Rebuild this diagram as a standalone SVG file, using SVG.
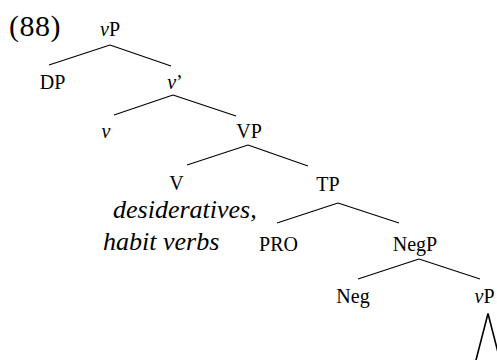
<svg xmlns="http://www.w3.org/2000/svg" width="497" height="360" viewBox="0 0 497 360">
<style>
.t{font-family:'Liberation Serif',serif;fill:#000}
.l{font-size:20px;text-anchor:middle}
.big{font-size:30px;letter-spacing:0.5px}
.it{font-size:26px;font-style:italic}
.i{font-style:italic}
#connectors line,#connectors path{stroke:#000;stroke-width:1.1;fill:none}
</style>
<rect width="497" height="360" fill="#fff"/>
<g class="t" font-family="Liberation Serif, serif">
<text class="big" x="9" y="36">(88)</text>
<g id="n-vP"><text class="l" x="110" y="36"><tspan class="i">v</tspan>P</text></g>
<g id="n-DP"><text class="l" x="52.5" y="89">DP</text></g>
<g id="n-vbar"><text class="l" x="175" y="89"><tspan class="i">v</tspan>’</text></g>
<g id="n-v"><text class="l i" x="106" y="138">v</text></g>
<g id="n-VP"><text class="l" x="249" y="138">VP</text></g>
<g id="n-V"><text class="l" x="176.5" y="190">V</text></g>
<g id="n-TP"><text class="l" x="328" y="191">TP</text></g>
<g id="n-Vgloss"><text class="it" x="113" y="218">desideratives,</text><text class="it" x="103" y="250">habit verbs</text></g>
<g id="n-PRO"><text class="l" x="278.5" y="251">PRO</text></g>
<g id="n-NegP"><text class="l" x="415" y="251">NegP</text></g>
<g id="n-Neg"><text class="l" x="353" y="303">Neg</text></g>
<g id="n-vP2"><text class="l" x="484.5" y="303"><tspan class="i">v</tspan>P</text></g>
</g>
<g id="connectors">
<line x1="110" y1="45" x2="49" y2="65"/>
<line x1="110" y1="45" x2="171" y2="66"/>
<line x1="173" y1="95" x2="114" y2="115"/>
<line x1="173" y1="95" x2="236" y2="116"/>
<line x1="248" y1="145" x2="187" y2="165"/>
<line x1="248" y1="145" x2="308" y2="166"/>
<line x1="338" y1="203" x2="277" y2="223"/>
<line x1="338" y1="203" x2="399" y2="223"/>
<line x1="419" y1="259" x2="358" y2="279"/>
<line x1="419" y1="259" x2="480" y2="279"/>
<path d="M475.5 362 L488 313.5 L500.5 362" style="stroke-width:1.6"/>
</g>
</svg>
